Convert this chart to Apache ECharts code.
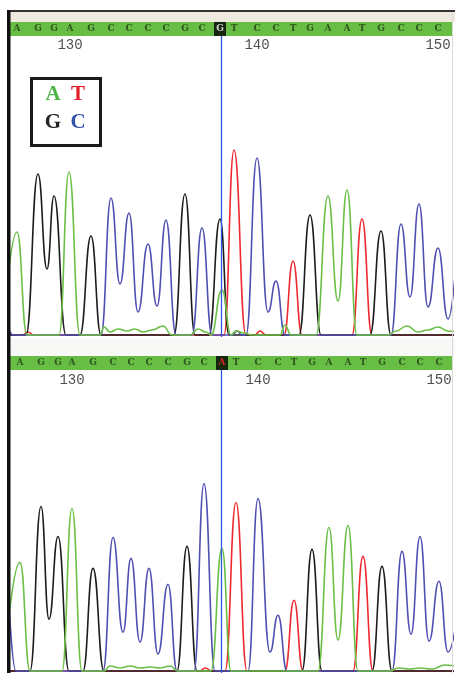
<!DOCTYPE html>
<html>
<head>
<meta charset="utf-8">
<script src="https://cdn.jsdelivr.net/npm/echarts@6/dist/echarts.min.js"></script>
<style>
  html, body { margin: 0; padding: 0; background: #fff; }
  #chart { width: 455px; height: 673px; }
</style>
</head>
<body>
<div id="chart"></div>
<script>
// ====== trace data: [scan position, signal] ======
const firstBase = 127;
const seqTop = "AGGAGCCCCGCGTCCTGAATGCCC".split("");
const seqBottom = "AGGAGCCCCGCATCCTGAATGCCC".split("");
const basePosTop = [17, 38, 54, 70, 91, 111, 129, 148, 166, 185, 202, 220, 234, 257, 276, 293, 310, 328, 347, 362, 381, 401, 419, 438];
const basePosBottom = [20, 41, 58, 72, 93, 113, 131, 149, 168, 187, 204, 222, 236, 258, 278, 294, 312, 329, 348, 363, 382, 402, 420, 439];
const tickBases = [130, 140, 150];
const tickLabels = ["130", "140", "150"];
const cursorPos = 221;
const calledIndex = 11;

const topA = [[3,0],[17,103],[27,0],[59,0],[69,163],[80,0],[100,0],[104,8],[110,3],[118,6],[127,4],[135,6],[143,3],[152,5],[163,9],[172,0],[190,0],[198,6],[206,3],[211,0],[222,45],[231,0],[236,4],[244,2],[252,0],[280,0],[285,10],[291,0],[316,0],[328,139],[338,34],[347,145],[357,0],[388,0],[396,4],[407,9],[418,3],[428,5],[438,8],[448,4],[460,2]];
const topC = [[4,25],[13,0],[101,0],[111,137],[120,51],[129,122],[138,23],[148,91],[157,29],[166,115],[176,0],[192,0],[202,107],[212,0],[232,0],[237,4],[242,0],[246,0],[257,177],[268,23],[276,54],[285,0],[391,0],[401,111],[410,38],[419,131],[428,28],[438,87],[448,16],[459,115]];
const topG = [[0,0],[26,0],[38,161],[47,66],[54,139],[66,0],[80,0],[91,99],[101,0],[174,0],[185,141],[195,0],[209,0],[220,116],[229,0],[299,0],[310,120],[321,0],[370,0],[381,104],[391,0],[460,0]];
const topT = [[0,0],[22,0],[28,3],[34,0],[224,0],[234,185],[246,0],[255,0],[260,4],[266,0],[284,0],[293,74],[302,0],[352,0],[362,116],[372,0],[460,0]];

const botA = [[4,0],[20,109],[30,0],[62,0],[72,163],[82,0],[104,0],[110,5],[120,3],[130,5],[140,3],[150,4],[160,3],[170,5],[178,0],[211,0],[222,123],[231,0],[318,0],[329,144],[338,31],[348,146],[358,0],[390,0],[398,3],[410,2],[420,3],[432,2],[445,6],[460,4]];
const botC = [[6,130],[16,0],[103,0],[113,134],[123,39],[131,113],[140,29],[149,103],[158,17],[168,87],[177,0],[194,0],[204,188],[215,0],[248,0],[258,173],[270,19],[278,56],[287,0],[392,0],[402,120],[411,37],[420,135],[429,30],[439,90],[448,19],[462,100]];
const botG = [[0,0],[30,0],[41,165],[49,52],[58,135],[69,0],[83,0],[93,103],[104,0],[177,0],[187,125],[197,0],[302,0],[312,122],[322,0],[372,0],[382,105],[392,0],[460,0]];
const botT = [[0,0],[200,0],[205,3],[212,0],[225,0],[236,169],[247,0],[285,0],[294,71],[303,0],[353,0],[363,115],[373,0],[460,0]];

const traceColor = { A: "#6bbf47", C: "#5050b2", G: "#1c1c1c", T: "#ee2a30" };
const legendColor = { A: "#4cb648", T: "#e3202a", G: "#222222", C: "#2e55a8" };

const chart = echarts.init(document.getElementById("chart"));

function trace(name, data, axis) {
  return {
    type: "line",
    name,
    xAxisIndex: axis,
    yAxisIndex: axis,
    data,
    symbol: "none",
    smooth: 0.5,
    smoothMonotone: "x",
    silent: true,
    animation: false,
    lineStyle: { color: traceColor[name], width: 1.6 },
  };
}

function cursor(axis) {
  return {
    type: "line",
    xAxisIndex: axis,
    yAxisIndex: axis,
    data: [],
    silent: true,
    markLine: {
      silent: true,
      symbol: "none",
      label: { show: false },
      lineStyle: { color: "#2f56e0", width: 1.3, type: "solid" },
      data: [{ xAxis: cursorPos }],
    },
  };
}

function seqBar(seq, pos, axis, calledColor) {
  return {
    type: "scatter",
    xAxisIndex: axis,
    yAxisIndex: axis,
    silent: true,
    clip: true,
    symbol: "rect",
    symbolSize: [12, 14],
    data: seq.map((b, i) => ({
      value: [pos[i], 0.5, b],
      itemStyle: { color: i === calledIndex ? "#000" : "rgba(0,0,0,0)" },
      label: { color: i === calledIndex ? calledColor : "#1d3a12" },
    })),
    label: {
      show: true,
      position: "inside",
      formatter: (p) => p.value[2],
      fontFamily: "DejaVu Serif",
      fontWeight: "bold",
      fontSize: 9,
    },
  };
}

function numbers(pos, axis, yVal) {
  return {
    type: "scatter",
    xAxisIndex: axis,
    yAxisIndex: axis,
    silent: true,
    symbolSize: 0,
    data: tickBases.map((b, i) => [pos[b - firstBase], yVal, tickLabels[i]]),
    label: {
      show: true,
      position: "inside",
      formatter: (p) => p.value[2],
      fontFamily: "Liberation Mono",
      fontSize: 14,
      color: "#222",
    },
  };
}

const barGrid = { left: 10, right: 3, height: 14, show: true, backgroundColor: "#68bd45", borderWidth: 0 };
const xAx = (g) => ({ type: "value", gridIndex: g, min: 10, max: 452, show: false });

const option = {
  animation: false,
  grid: [
    Object.assign({ top: 22 }, barGrid),
    { left: 10, right: 3, top: 36, height: 301 },
    Object.assign({ top: 356 }, barGrid),
    { left: 10, right: 3, top: 370, height: 304 },
  ],
  xAxis: [xAx(0), xAx(1), xAx(2), xAx(3)],
  yAxis: [
    { type: "value", gridIndex: 0, min: 0, max: 1, show: false },
    { type: "value", gridIndex: 1, min: -2, max: 299, show: false },
    { type: "value", gridIndex: 2, min: 0, max: 1, show: false },
    { type: "value", gridIndex: 3, min: -2, max: 302, show: false },
  ],
  graphic: [
    // frame
    { type: "rect", shape: { x: 9, y: 12, width: 446, height: 10 }, style: { fill: "#eeeae0" }, z: 1 },
    { type: "rect", shape: { x: 7, y: 10, width: 448, height: 2 }, style: { fill: "#333" }, z: 10 },
    { type: "rect", shape: { x: 10, y: 338, width: 445, height: 18 }, style: { fill: "#f8f8f6" }, z: 1 },
    { type: "rect", shape: { x: 452, y: 12, width: 1, height: 661 }, style: { fill: "#d8d8d8" }, z: 10 },
    { type: "rect", shape: { x: 7, y: 10, width: 3.5, height: 663 }, style: { fill: "#111" }, z: 10 },
    // base colour key
    {
      type: "group", left: 30, top: 77, z: 20,
      children: [
        { type: "rect", shape: { x: 1.5, y: 1.5, width: 69, height: 67 }, style: { fill: "#fff", stroke: "#1a1a1a", lineWidth: 3 } },
        { type: "text", x: 23, y: 18, style: { text: "A", fill: legendColor.A, font: "bold 21px 'Liberation Serif'", align: "center", verticalAlign: "middle" } },
        { type: "text", x: 48, y: 18, style: { text: "T", fill: legendColor.T, font: "bold 21px 'Liberation Serif'", align: "center", verticalAlign: "middle" } },
        { type: "text", x: 23, y: 46, style: { text: "G", fill: legendColor.G, font: "bold 21px 'Liberation Serif'", align: "center", verticalAlign: "middle" } },
        { type: "text", x: 48, y: 46, style: { text: "C", fill: legendColor.C, font: "bold 21px 'Liberation Serif'", align: "center", verticalAlign: "middle" } },
      ],
    },
  ],
  series: [
    seqBar(seqTop, basePosTop, 0, "#ffffff"),
    numbers(basePosTop, 1, 290),
    trace("T", topT, 1),
    trace("G", topG, 1),
    trace("C", topC, 1),
    trace("A", topA, 1),
    cursor(1),
    seqBar(seqBottom, basePosBottom, 2, "#ff2a2a"),
    numbers(basePosBottom, 3, 292),
    trace("T", botT, 3),
    trace("G", botG, 3),
    trace("C", botC, 3),
    trace("A", botA, 3),
    cursor(3),
  ],
};

chart.setOption(option);
</script>
</body>
</html>
